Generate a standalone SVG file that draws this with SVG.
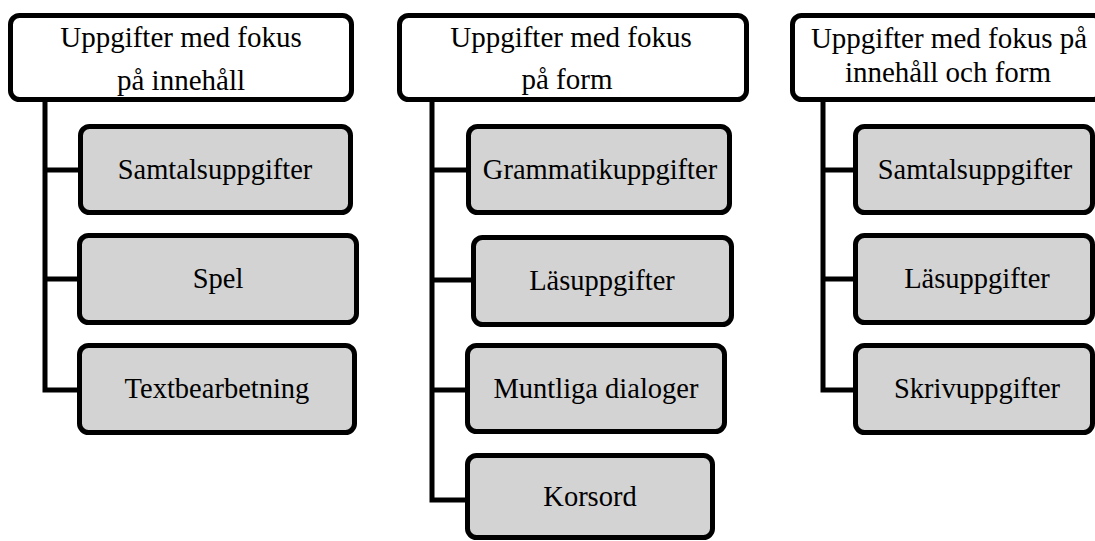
<svg xmlns="http://www.w3.org/2000/svg" width="1095" height="541" viewBox="0 0 1095 541">
<style>
  .hdr { fill: #ffffff; stroke: #000000; stroke-width: 5; }
  .box { fill: #d3d3d3; stroke: #000000; stroke-width: 5; }
  .conn { fill: none; stroke: #000000; stroke-width: 5; stroke-linejoin: miter; }
  text { font-family: "Liberation Serif", "Times New Roman", serif; fill: #000000; text-anchor: middle; }
  .ht { font-size: 29px; }
  .ct { font-size: 28.5px; }
</style>
<rect width="1095" height="541" fill="#ffffff"/>
<g id="connectors">
  <path class="conn" d="M45,101 V390 H80 M45,170 H80 M45,279 H80"/>
  <path class="conn" d="M432,101 V500 H468 M432,170 H468 M432,280 H473 M432,390 H468"/>
  <path class="conn" d="M823,101 V390 H855 M823,170 H855 M823,279 H855"/>
</g>
<g id="h1">
  <rect class="hdr" x="10.5" y="15.5" width="341" height="84" rx="9"/>
  <text class="ht" x="181" y="47">Uppgifter med fokus</text>
  <text class="ht" x="181" y="90">på innehåll</text>
</g>
<g id="c1a">
  <rect class="box" x="80.5" y="126.5" width="270" height="86" rx="9"/>
  <text class="ct" x="215" y="179">Samtalsuppgifter</text>
</g>
<g id="c1b">
  <rect class="box" x="79.5" y="235.5" width="277" height="87" rx="9"/>
  <text class="ct" x="218" y="288">Spel</text>
</g>
<g id="c1c">
  <rect class="box" x="79.5" y="345.5" width="275" height="87" rx="9"/>
  <text class="ct" x="217" y="398">Textbearbetning</text>
</g>
<g id="h2">
  <rect class="hdr" x="399.5" y="15.5" width="347" height="84" rx="9"/>
  <text class="ht" x="571" y="47">Uppgifter med fokus</text>
  <text class="ht" x="567" y="89">på form</text>
</g>
<g id="c2a">
  <rect class="box" x="468.5" y="126.5" width="261" height="86" rx="9"/>
  <text class="ct" x="600" y="179">Grammatikuppgifter</text>
</g>
<g id="c2b">
  <rect class="box" x="473.5" y="237.5" width="258" height="87" rx="9"/>
  <text class="ct" x="602" y="290">Läsuppgifter</text>
</g>
<g id="c2c">
  <rect class="box" x="467.5" y="345.5" width="257" height="86" rx="9"/>
  <text class="ct" x="596" y="398">Muntliga dialoger</text>
</g>
<g id="c2d">
  <rect class="box" x="467.5" y="455.5" width="245" height="82" rx="9"/>
  <text class="ct" x="590" y="506">Korsord</text>
</g>
<g id="h3">
  <rect class="hdr" x="792.5" y="15.5" width="310" height="84" rx="9"/>
  <text class="ht" x="949" y="48">Uppgifter med fokus på</text>
  <text class="ht" x="948" y="82">innehåll och form</text>
</g>
<g id="c3a">
  <rect class="box" x="855.5" y="126.5" width="237" height="86" rx="9"/>
  <text class="ct" x="975" y="179">Samtalsuppgifter</text>
</g>
<g id="c3b">
  <rect class="box" x="855.5" y="235.5" width="237" height="87" rx="9"/>
  <text class="ct" x="977" y="288">Läsuppgifter</text>
</g>
<g id="c3c">
  <rect class="box" x="855.5" y="345.5" width="237" height="87" rx="9"/>
  <text class="ct" x="977" y="398">Skrivuppgifter</text>
</g>
</svg>
